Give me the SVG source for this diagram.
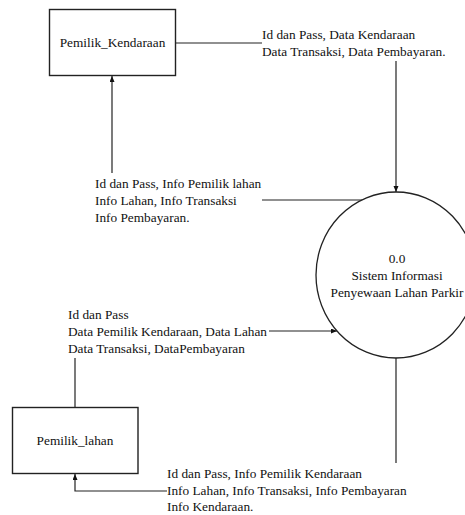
<svg xmlns="http://www.w3.org/2000/svg" width="465" height="515" viewBox="0 0 465 515">
<style>
.box{fill:#fff;stroke:#222;stroke-width:1.4}
.proc{fill:#fff;stroke:#222;stroke-width:1.3}
.ln{fill:none;stroke:#222;stroke-width:1.2}
.t{font-family:'Liberation Serif','Times New Roman',Tinos,'DejaVu Serif',serif;font-size:13.3px;fill:#111}
.c{text-anchor:middle}
</style>
<defs>
<marker id="ah" markerUnits="userSpaceOnUse" markerWidth="7" markerHeight="6" refX="6" refY="2.5" orient="auto">
<path d="M0,0 L6,2.5 L0,5 z" fill="#111"/>
</marker>
</defs>
<rect width="465" height="515" fill="#fff"/>
<g id="connectors">
<g id="flow-kendaraan-to-proses">
<path class="ln" d="M175,43 H262"/>
<path class="ln" d="M396,61 V192" marker-end="url(#ah)"/>
<text class="t" x="262" y="39">Id dan Pass, Data Kendaraan</text>
<text class="t" x="262" y="56">Data Transaksi, Data Pembayaran.</text>
</g>
<g id="flow-proses-to-kendaraan">
<path class="ln" d="M365,200 H262"/>
<path class="ln" d="M112,173 V76" marker-end="url(#ah)"/>
<text class="t" x="95" y="188">Id dan Pass, Info Pemilik lahan</text>
<text class="t" x="95" y="205">Info Lahan, Info Transaksi</text>
<text class="t" x="95" y="222">Info Pembayaran.</text>
</g>
<g id="flow-lahan-to-proses">
<path class="ln" d="M75,408 V358"/>
<path class="ln" d="M269,331 H337" marker-end="url(#ah)"/>
<text class="t" x="68" y="319">Id dan Pass</text>
<text class="t" x="68" y="336">Data Pemilik Kendaraan, Data Lahan</text>
<text class="t" x="68" y="353">Data Transaksi, DataPembayaran</text>
</g>
<g id="flow-proses-to-lahan">
<path class="ln" d="M396,358 V463"/>
<path class="ln" d="M167,491 H75 V474" marker-end="url(#ah)"/>
<text class="t" x="167" y="478">Id dan Pass, Info Pemilik Kendaraan</text>
<text class="t" x="167" y="495">Info Lahan, Info Transaksi, Info Pembayaran</text>
<text class="t" x="167" y="511">Info Kendaraan.</text>
</g>
</g>
<g id="node-pemilik-kendaraan">
<rect class="box" x="49.5" y="9.5" width="126" height="66"/>
<text class="t c" x="112.5" y="47">Pemilik_Kendaraan</text>
</g>
<g id="node-proses">
<ellipse class="proc" cx="396" cy="275" rx="80" ry="83"/>
<text class="t c" x="397" y="263">0.0</text>
<text class="t c" x="397" y="280">Sistem Informasi</text>
<text class="t c" x="397" y="297">Penyewaan Lahan Parkir</text>
</g>
<g id="node-pemilik-lahan">
<rect class="box" x="12.5" y="407.5" width="125.5" height="66"/>
<text class="t c" x="75" y="445">Pemilik_lahan</text>
</g>
</svg>
